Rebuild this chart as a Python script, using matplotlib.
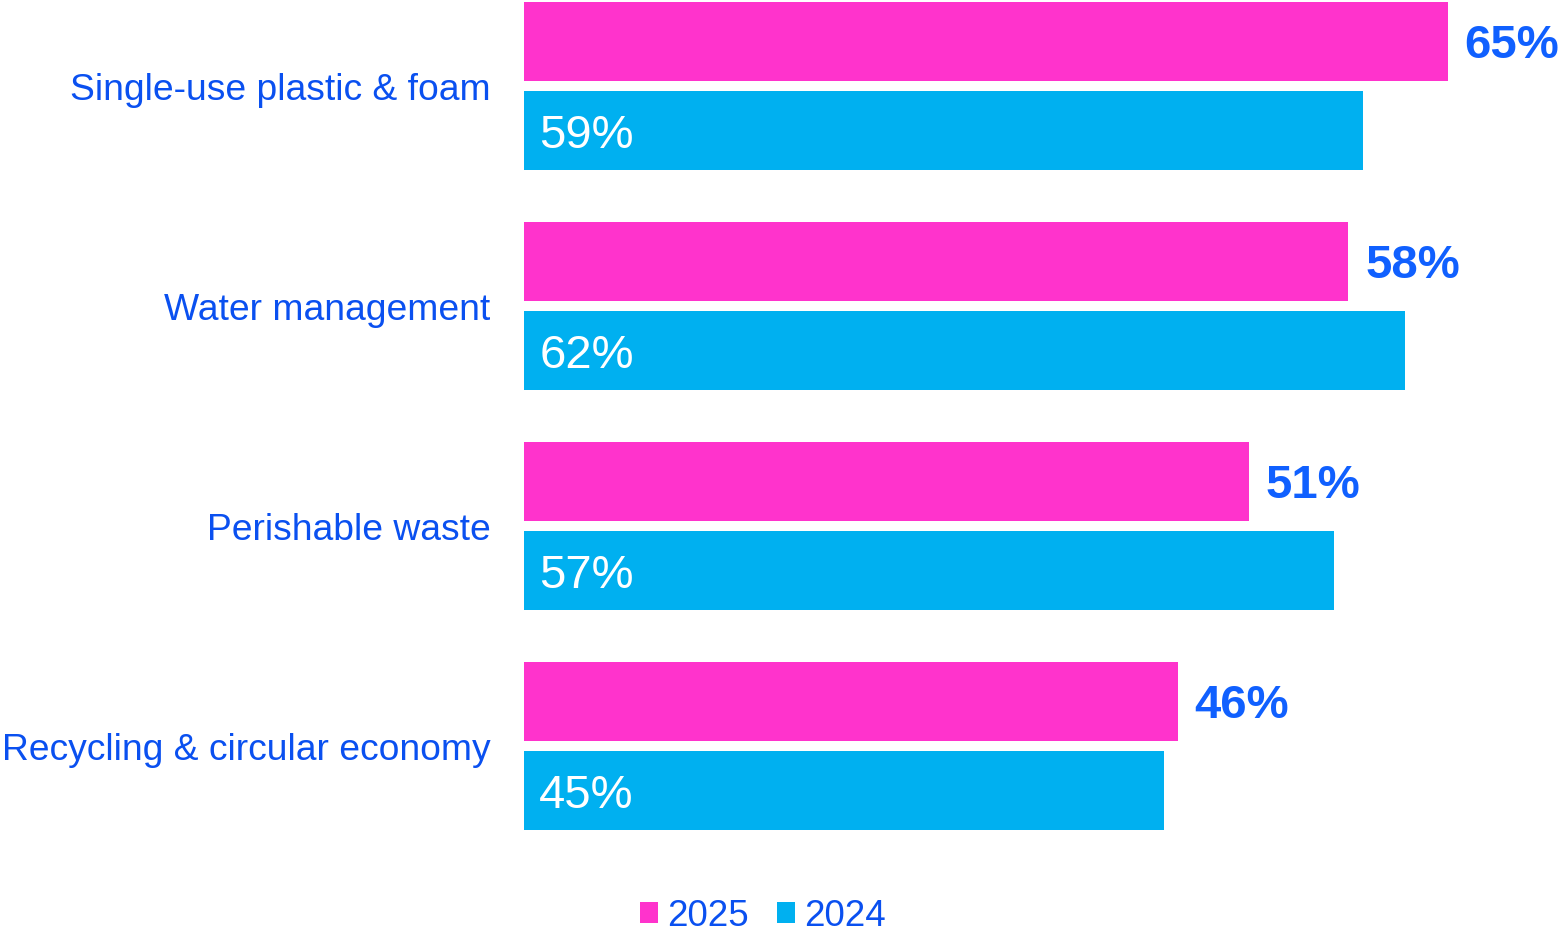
import matplotlib
matplotlib.use('Agg')
import matplotlib.pyplot as plt
import numpy as np

plt.rcParams['font.family'] = ['Liberation Sans', 'DejaVu Sans']

categories = ['Single-use plastic & foam', 'Water management',
              'Perishable waste', 'Recycling & circular economy']
vals_2025 = [65, 58, 51, 46]
vals_2024 = [59, 62, 57, 45]
series_names = ['2025', '2024']

PINK = '#FF33CC'
CYAN = '#00B0F0'
TEXT_BLUE = '#0A50F0'
VALUE_BLUE = '#1060FF'

W, H = 1562, 935
fig = plt.figure(figsize=(W / 100, H / 100), dpi=100)
# axes spans from the bars' left edge to the right edge of the figure
ax = fig.add_axes([524 / W, (H - 880) / H, (W - 524) / W, 880 / H])

y = np.arange(len(categories))
bar_h = 79 / 220
off = 44.5 / 220

ax.barh(y - off, vals_2025, height=bar_h, color=PINK, label=series_names[0])
ax.barh(y + off, vals_2024, height=bar_h, color=CYAN, label=series_names[1])

ax.set_xlim(0, (W - 524) / 14.215)
ax.set_ylim(-86 / 220 + 880 / 220, -86 / 220)

# bold 2025 values sit past the bar end, 2024 values inside the bar
for yi, v in zip(y, vals_2025):
    ax.annotate(f'{v}%', (v, yi - off), xytext=(12, -3.6),
                textcoords='offset points', va='center', ha='left',
                fontsize=34, fontweight='bold', color=VALUE_BLUE)
for yi, v in zip(y, vals_2024):
    ax.annotate(f'{v}%', (0, yi + off), xytext=(11, -3.6),
                textcoords='offset points', va='center', ha='left',
                fontsize=34, color='white')

ax.set_yticks(y)
ax.set_yticklabels(categories, fontsize=26.8, color=TEXT_BLUE)
ax.tick_params(axis='y', length=0, pad=24)
ax.set_xticks([])
for s in ax.spines.values():
    s.set_visible(False)

fig.legend(loc='center', bbox_to_anchor=(763 / W, 1 - 916 / H), ncol=2,
           frameon=False, fontsize=26.5, handlelength=0.5, handleheight=0.5,
           handletextpad=0.25, columnspacing=0.75, labelcolor=TEXT_BLUE,
           borderpad=0.1)

fig.savefig('out.png', dpi=100)
